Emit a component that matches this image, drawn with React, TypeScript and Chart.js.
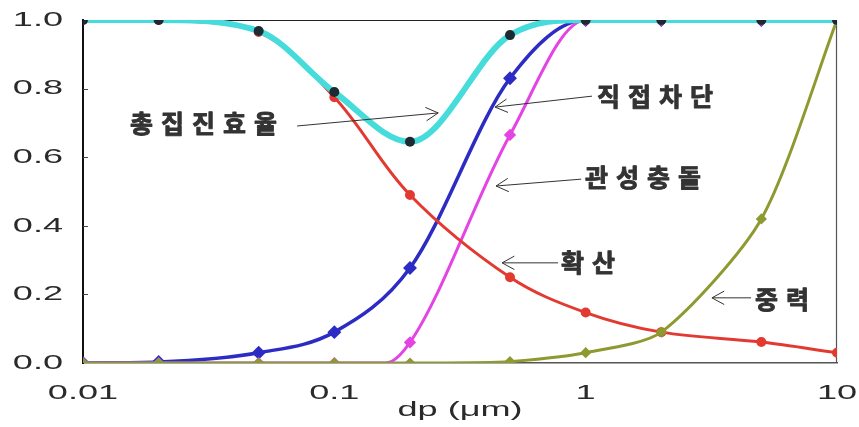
import React, { useEffect, useRef } from 'react';
import { Chart, registerables } from 'chart.js';

Chart.register(...registerables);

// ---- data ----
const DP = [0.01, 0.02, 0.05, 0.1, 0.2, 0.5, 1, 2, 5, 10];
const TOTAL = [1, 1, 0.968, 0.79, 0.645, 0.956, 1, 1, 1, 1];
const DIFFUSION = [1, 1, 0.965, 0.775, 0.49, 0.25, 0.147, 0.09, 0.061, 0.03];
const INTERCEPTION = [0, 0.003, 0.03, 0.09, 0.277, 0.83, 1, 1, 1, 1];
const IMPACTION_DP = [0.01, 0.02, 0.05, 0.1, 0.16, 0.2, 0.5, 1, 2, 5, 10];
const IMPACTION = [0, 0, 0, 0, 0, 0.06, 0.665, 1, 1, 1, 1];
const GRAVITY = [0, 0, 0, 0, 0, 0.004, 0.03, 0.09, 0.42, 1];

const X_TICKS = [0.01, 0.1, 1, 10];
const X_TICK_LABELS = ['0.01', '0.1', '1', '10'];
const Y_TICKS = [0, 0.2, 0.4, 0.6, 0.8, 1.0];
const Y_TICK_LABELS = ['0.0', '0.2', '0.4', '0.6', '0.8', '1.0'];
const X_TITLE = 'dp (μm)';

// annotation labels with arrows, anchored in data coordinates
const ANNO_TEXT = ['총집진효율', '직접차단', '관성충돌', '확산', '중력'];
const ANNO_TEXT_AT = [[0.01538, 0.697], [1.11, 0.778], [0.9945, 0.541], [0.798, 0.294], [4.72, 0.184]];
const ANNO_FROM = [[0.0711, 0.691], [1.06, 0.778], [0.96, 0.536], [0.777, 0.292], [4.55, 0.19]];
const ANNO_TO = [[0.259, 0.729], [0.436, 0.746], [0.44, 0.516], [0.465, 0.292], [3.18, 0.19]];

const SX = 1.72; // horizontal stretch of axis text

const xy = (xs: number[], ys: number[]) => xs.map((x, i) => ({ x, y: ys[i] }));

const stretchAxisText = {
  id: 'stretchAxisText',
  beforeDraw(chart: any) {
    const ctx = chart.ctx as any;
    const orig = Object.getPrototypeOf(ctx).fillText;
    ctx.fillText = function (text: string, x: number, y: number) {
      this.save();
      this.translate(x, y);
      this.scale(SX, 1);
      orig.call(this, text, 0, 0);
      this.restore();
    };
  },
  beforeDatasetsDraw(chart: any) {
    delete (chart.ctx as any).fillText;
  },
};

const framePlugin = {
  id: 'frame',
  beforeDatasetsDraw(chart: any) {
    const { ctx, chartArea: a, scales } = chart;
    ctx.save();
    ctx.strokeStyle = '#222';
    ctx.lineWidth = 1.2;
    ctx.beginPath();
    ctx.moveTo(a.left, a.top + 0.5);
    ctx.lineTo(a.right, a.top + 0.5);
    ctx.stroke();
    ctx.strokeStyle = '#555';
    ctx.beginPath();
    ctx.moveTo(a.right - 0.5, a.top);
    ctx.lineTo(a.right - 0.5, a.bottom);
    ctx.stroke();
    ctx.strokeStyle = '#444';
    ctx.lineWidth = 1;
    Y_TICKS.forEach((v) => {
      if (v === 0 || v === 1) return;
      const py = Math.round(scales.y.getPixelForValue(v)) + 0.5;
      ctx.beginPath();
      ctx.moveTo(a.left, py);
      ctx.lineTo(a.left + 5, py);
      ctx.stroke();
    });
    ctx.restore();
  },
};

const annotationPlugin = {
  id: 'annotations',
  afterDatasetsDraw(chart: any) {
    const { ctx, scales } = chart;
    const px = (p: number[]) => [scales.x.getPixelForValue(p[0]), scales.y.getPixelForValue(p[1])];
    ctx.save();
    ANNO_TEXT.forEach((text, i) => {
      const [fx, fy] = px(ANNO_FROM[i]);
      const [tx, ty] = px(ANNO_TO[i]);
      ctx.strokeStyle = '#333';
      ctx.lineWidth = 1;
      ctx.beginPath();
      ctx.moveTo(fx, fy);
      ctx.lineTo(tx, ty);
      ctx.stroke();
      const ang = Math.atan2(fy - ty, fx - tx);
      const len = 14;
      const spread = 0.5;
      ctx.beginPath();
      ctx.moveTo(tx + len * Math.cos(ang + spread), ty + len * Math.sin(ang + spread));
      ctx.lineTo(tx, ty);
      ctx.lineTo(tx + len * Math.cos(ang - spread), ty + len * Math.sin(ang - spread));
      ctx.stroke();
      const [lx, ly] = px(ANNO_TEXT_AT[i]);
      ctx.fillStyle = '#333';
      ctx.strokeStyle = '#333';
      ctx.lineWidth = 0.9;
      ctx.lineJoin = 'round';
      ctx.font = 'bold 25px "Noto Sans CJK KR"';
      ctx.textAlign = 'left';
      ctx.textBaseline = 'middle';
      Array.from(text).forEach((ch, k) => {
        ctx.fillText(ch, lx + k * 31, ly);
        ctx.strokeText(ch, lx + k * 31, ly);
      });
    });
    ctx.restore();
  },
};

export default function App() {
  const ref = useRef<HTMLCanvasElement | null>(null);
  useEffect(() => {
    if (!ref.current) return;
    const tickFont = { family: '"Liberation Sans", Arial, sans-serif', size: 21 };
    const chart = new Chart(ref.current, {
      type: 'line',
      data: {
        datasets: [
          {
            label: '총집진효율',
            data: xy(DP, TOTAL),
            borderColor: '#46dcdc',
            borderWidth: 6,
            pointRadius: 5,
            pointBackgroundColor: '#1d2a32',
            pointBorderColor: '#1d2a32',
            pointBorderWidth: 0,
            cubicInterpolationMode: 'monotone',
          },
          {
            label: '중력',
            data: xy(DP, GRAVITY),
            borderColor: '#8e9a30',
            borderWidth: 3,
            pointStyle: 'rectRot',
            pointRadius: 3.5,
            pointBackgroundColor: '#8e9a30',
            pointBorderColor: '#8e9a30',
            tension: 0.25,
          },
          {
            label: '확산',
            data: xy(DP, DIFFUSION),
            borderColor: '#e23a30',
            borderWidth: 3,
            pointRadius: 3.5,
            pointBackgroundColor: '#e23a30',
            pointBorderColor: '#e23a30',
            tension: 0.35,
          },
          {
            label: '관성충돌',
            data: xy(IMPACTION_DP, IMPACTION),
            borderColor: '#e444e4',
            borderWidth: 3,
            pointStyle: 'rectRot',
            pointRadius: (c: any) => (c.raw && c.raw.x === 0.16 ? 0 : 4),
            pointBackgroundColor: '#e444e4',
            pointBorderColor: '#e444e4',
            cubicInterpolationMode: 'monotone',
          },
          {
            label: '직접차단',
            data: xy(DP, INTERCEPTION),
            borderColor: '#2c2cc4',
            borderWidth: 3.5,
            pointStyle: 'rectRot',
            pointRadius: 4.5,
            pointBackgroundColor: '#2c2cc4',
            pointBorderColor: '#2c2cc4',
            cubicInterpolationMode: 'monotone',
          },
        ],
      },
      options: {
        animation: false,
        responsive: true,
        maintainAspectRatio: false,
        layout: { padding: { top: 20, right: 22, bottom: 0, left: 0 } },
        plugins: { legend: { display: false }, tooltip: { enabled: false } },
        scales: {
          x: {
            type: 'logarithmic',
            min: 0.01,
            max: 10,
            afterBuildTicks: (s: any) => {
              s.ticks = X_TICKS.map((v) => ({ value: v }));
            },
            afterFit: (s: any) => {
              s.height = 64;
              s.paddingLeft = 0;
              s.paddingRight = 0;
              s.paddingTop = 0;
              s.paddingBottom = 0;
            },
            ticks: {
              autoSkip: false,
              maxRotation: 0,
              padding: 18,
              color: '#2a2a2a',
              font: tickFont,
              callback: (v: any) => {
                const i = X_TICKS.indexOf(Number(v));
                return i >= 0 ? X_TICK_LABELS[i] : '';
              },
            },
            grid: { drawOnChartArea: false, drawTicks: false },
            border: { display: true, color: '#555', width: 1.5 },
            title: {
              display: true,
              text: X_TITLE,
              color: '#2a2a2a',
              font: tickFont,
              padding: { top: 0, bottom: 4 },
            },
          },
          y: {
            type: 'linear',
            min: 0,
            max: 1,
            afterBuildTicks: (s: any) => {
              s.ticks = Y_TICKS.map((v) => ({ value: v }));
            },
            afterFit: (s: any) => {
              s.width = 83;
              s.paddingLeft = 0;
              s.paddingRight = 0;
              s.paddingTop = 0;
              s.paddingBottom = 0;
            },
            ticks: {
              padding: 20,
              color: '#2a2a2a',
              font: tickFont,
              callback: (v: any) => {
                const i = Y_TICKS.findIndex((t) => Math.abs(t - Number(v)) < 1e-9);
                return i >= 0 ? Y_TICK_LABELS[i] : '';
              },
            },
            grid: { drawOnChartArea: false, drawTicks: false },
            border: { display: true, color: '#111', width: 2 },
          },
        },
      },
      plugins: [stretchAxisText, framePlugin, annotationPlugin],
    } as any);
    return () => chart.destroy();
  }, []);
  return (
    <div style={{ position: 'fixed', left: 0, top: 0, width: 859, height: 427, background: '#fff' }}>
      <canvas ref={ref} />
    </div>
  );
}
